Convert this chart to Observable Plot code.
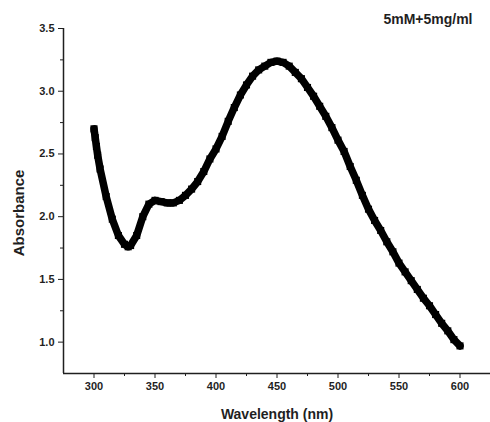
<!DOCTYPE html>
<html>
<head>
<meta charset="utf-8">
<script src="https://cdn.jsdelivr.net/npm/d3@7"></script>
<script src="https://cdn.jsdelivr.net/npm/@observablehq/plot@0.6"></script>
<style>
  html, body { margin: 0; padding: 0; background: #fff; }
</style>
</head>
<body>
<div id="chart"></div>
<script>
const wavelength = [300, 301, 302, 303, 305, 310, 315, 320, 325, 328, 330, 335, 340, 345, 350, 355, 360, 365, 370, 375, 380, 385, 390, 395, 400, 405, 410, 415, 420, 425, 430, 435, 440, 445, 450, 455, 460, 465, 470, 475, 480, 485, 490, 495, 500, 505, 510, 515, 520, 525, 530, 535, 540, 545, 550, 555, 560, 565, 570, 575, 580, 585, 590, 595, 600];
const absorbance = [2.70, 2.63, 2.56, 2.49, 2.38, 2.16, 1.98, 1.85, 1.78, 1.76, 1.77, 1.85, 2.00, 2.10, 2.13, 2.12, 2.11, 2.11, 2.13, 2.17, 2.22, 2.28, 2.36, 2.46, 2.54, 2.64, 2.76, 2.87, 2.97, 3.05, 3.12, 3.17, 3.20, 3.23, 3.24, 3.23, 3.20, 3.15, 3.10, 3.03, 2.96, 2.88, 2.80, 2.71, 2.61, 2.52, 2.40, 2.29, 2.17, 2.06, 1.97, 1.89, 1.80, 1.72, 1.63, 1.56, 1.49, 1.42, 1.35, 1.29, 1.22, 1.15, 1.09, 1.02, 0.97];
const xDomain = [275, 625];
const yDomain = [0.75, 3.5];
const xMajor = [300, 350, 400, 450, 500, 550, 600];
const xMinor = [325, 375, 425, 475, 525, 575];
const yMajor = [1.0, 1.5, 2.0, 2.5, 3.0, 3.5];
const yMinor = [1.25, 1.75, 2.25, 2.75, 3.25];
const annotation = "5mM+5mg/ml";
const xLabel = "Wavelength (nm)";
const yLabel = "Absorbance";

const data = wavelength.map((w, i) => ({w, a: absorbance[i]}));
const ink = "#1f1f1f";

const chart = Plot.plot({
  width: 490,
  height: 422,
  marginLeft: 63,
  marginRight: 0,
  marginTop: 28,
  marginBottom: 49,
  style: {fontFamily: "'Liberation Sans', Arial, sans-serif", fontSize: "11px", fontWeight: "bold", color: ink, background: "#fff"},
  x: {domain: xDomain},
  y: {domain: yDomain},
  marks: [
    Plot.axisX({ticks: xMajor, tickSize: 5, tickPadding: 4, label: null, tickFormat: d => String(d), fontSize: 11, stroke: ink}),
    Plot.axisX({ticks: xMinor, tickSize: 3, text: null, label: null, stroke: ink}),
    Plot.axisY({ticks: yMajor, tickSize: 5, tickPadding: 4, label: null, tickFormat: d3.format(".1f"), fontSize: 11, stroke: ink}),
    Plot.axisY({ticks: yMinor, tickSize: 3, text: null, label: null, stroke: ink}),
    Plot.ruleY([yDomain[0]], {stroke: ink, strokeWidth: 1.5}),
    Plot.ruleX([xDomain[0]], {stroke: ink, strokeWidth: 1.5}),
    Plot.line(data, {x: "w", y: "a", stroke: "#000", strokeWidth: 7.5, strokeLinejoin: "round"}),
    Plot.dot(data, {x: "w", y: "a", symbol: "square", r: 4, fill: "#000"}),
    Plot.text([annotation], {frameAnchor: "top-right", text: d => d, dx: -18, dy: -14, textAnchor: "end", fontSize: 14, fontWeight: "bold", fill: ink}),
    Plot.text([xLabel], {frameAnchor: "bottom", text: d => d, dy: 45, textAnchor: "middle", fontSize: 14, fontWeight: "bold", fill: ink}),
    Plot.text([yLabel], {frameAnchor: "left", text: d => d, dx: -44, dy: 12, textAnchor: "middle", rotate: -90, fontSize: 15, fontWeight: "bold", fill: ink})
  ]
});
document.getElementById("chart").append(chart);
</script>
</body>
</html>
